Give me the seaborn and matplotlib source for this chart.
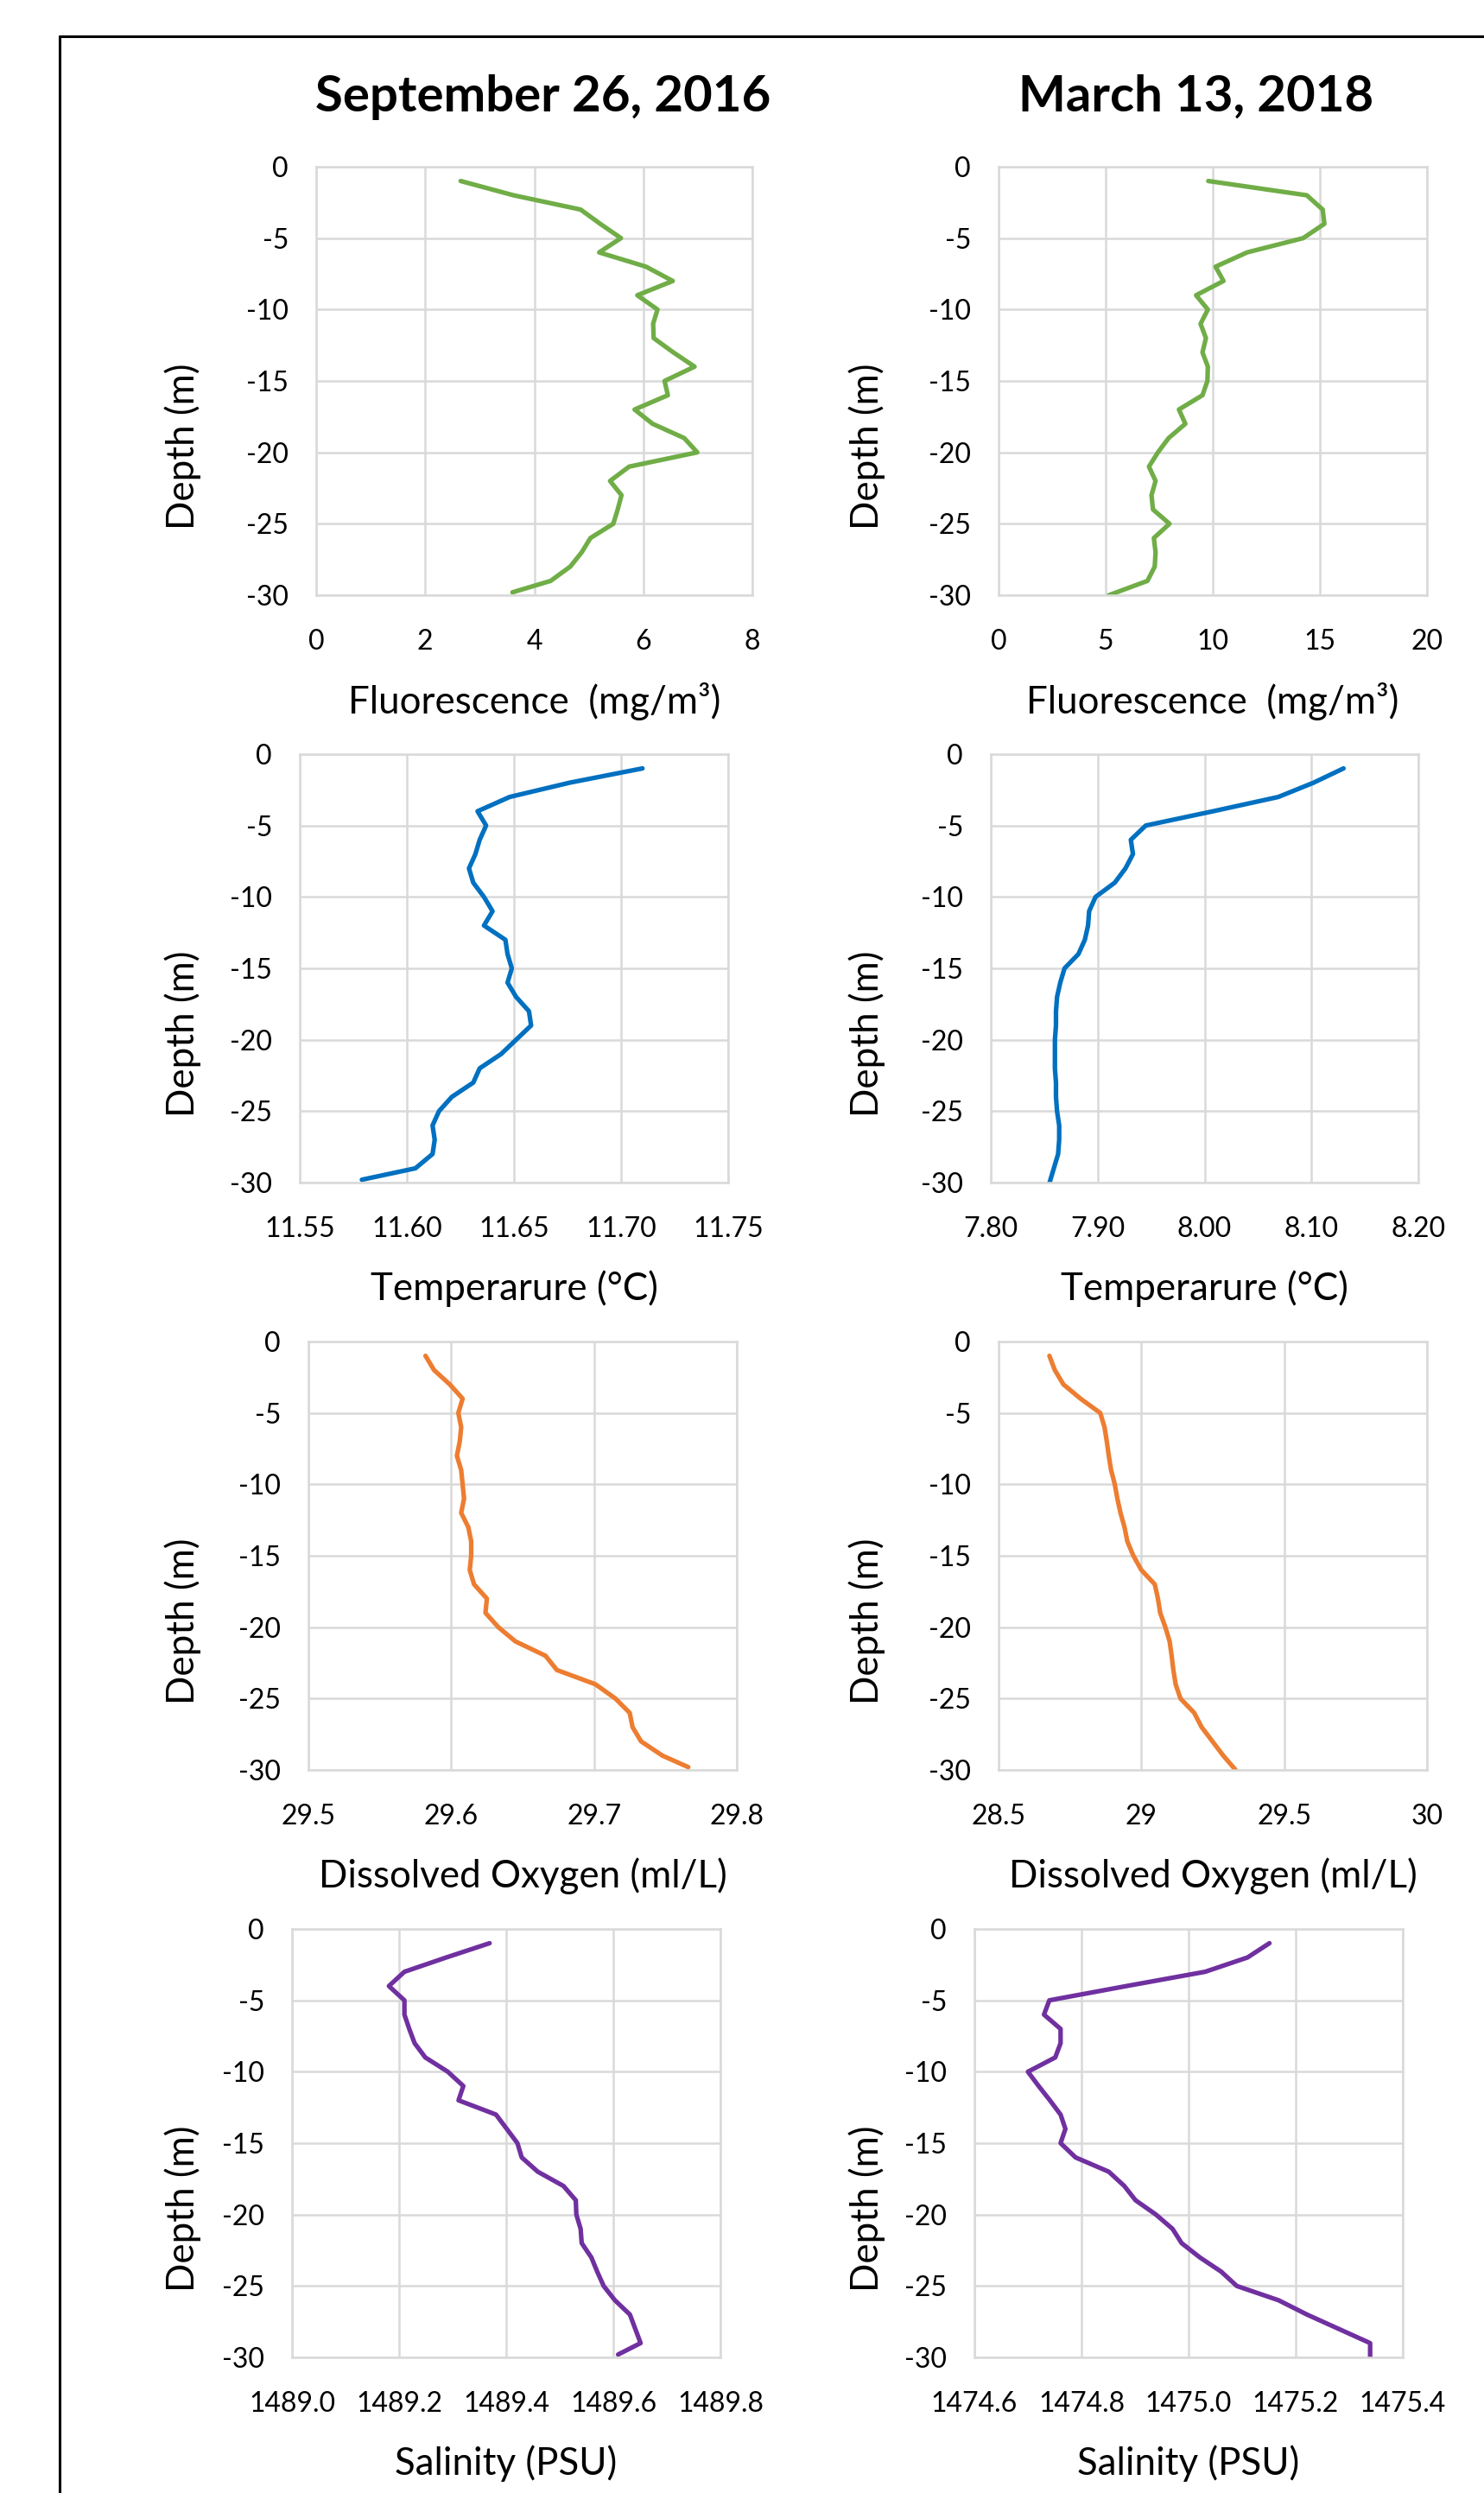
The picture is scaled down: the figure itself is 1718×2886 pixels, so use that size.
import numpy as np
import pandas as pd
import matplotlib
matplotlib.use("Agg")
import matplotlib.pyplot as plt
import seaborn as sns
from matplotlib.lines import Line2D

# ===============================================
# DATA
# ===============================================

depth_sep = [-1, -2, -3, -4, -5, -6, -7, -8, -9, -10, -11, -12, -13, -14, -15,
             -16, -17, -18, -19, -20, -21, -22, -23, -24, -25, -26, -27, -28, -29, -29.8]
depth_mar = [-1, -2, -3, -4, -5, -6, -7, -8, -9, -10, -11, -12, -13, -14, -15,
             -16, -17, -18, -19, -20, -21, -22, -23, -24, -25, -26, -27, -28, -29, -30]

fluor_sep = [2.65, 3.62, 4.85, 5.21, 5.59, 5.19, 6.05, 6.54, 5.89, 6.26, 6.18, 6.19, 6.55, 6.94, 6.39,
             6.45, 5.84, 6.17, 6.75, 6.99, 5.74, 5.39, 5.60, 5.53, 5.45, 5.03, 4.87, 4.66, 4.30, 3.60]
fluor_mar = [9.79, 14.39, 15.13, 15.21, 14.22, 11.60, 10.13, 10.50, 9.22, 9.77, 9.43, 9.68, 9.52, 9.77, 9.75,
             9.52, 8.42, 8.72, 7.94, 7.44, 7.02, 7.33, 7.14, 7.21, 7.98, 7.25, 7.33, 7.29, 6.95, 5.15]

temp_sep = [11.710, 11.676, 11.648, 11.633, 11.637, 11.634, 11.632, 11.629, 11.631, 11.636,
            11.640, 11.636, 11.646, 11.647, 11.649, 11.647, 11.651, 11.657, 11.658, 11.651,
            11.644, 11.634, 11.631, 11.621, 11.615, 11.612, 11.613, 11.612, 11.604, 11.579]
temp_mar = [8.130, 8.102, 8.069, 8.008, 7.945, 7.931, 7.933, 7.926, 7.916, 7.898,
            7.892, 7.891, 7.888, 7.882, 7.869, 7.865, 7.862, 7.861, 7.861, 7.860,
            7.860, 7.860, 7.861, 7.861, 7.862, 7.864, 7.864, 7.863, 7.859, 7.855]

oxy_sep = [29.582, 29.588, 29.599, 29.608, 29.605, 29.607, 29.606, 29.604, 29.607, 29.608,
           29.609, 29.607, 29.612, 29.614, 29.614, 29.613, 29.616, 29.625, 29.624, 29.633,
           29.645, 29.666, 29.674, 29.701, 29.715, 29.725, 29.727, 29.733, 29.748, 29.766]
oxy_mar = [28.678, 28.697, 28.727, 28.787, 28.856, 28.871, 28.879, 28.886, 28.894, 28.907,
           28.916, 28.927, 28.941, 28.951, 28.972, 29.000, 29.047, 29.058, 29.066, 29.084,
           29.099, 29.106, 29.112, 29.120, 29.137, 29.185, 29.211, 29.249, 29.287, 29.33]

sal_sep = [1489.369, 1489.288, 1489.210, 1489.181, 1489.210, 1489.210, 1489.219, 1489.229, 1489.249, 1489.291,
           1489.320, 1489.311, 1489.381, 1489.401, 1489.421, 1489.429, 1489.459, 1489.507, 1489.530, 1489.531,
           1489.539, 1489.541, 1489.559, 1489.570, 1489.582, 1489.603, 1489.631, 1489.641, 1489.651, 1489.609]
sal_mar = [1475.151, 1475.110, 1475.031, 1474.884, 1474.740, 1474.730, 1474.761, 1474.761, 1474.751, 1474.700,
           1474.720, 1474.741, 1474.761, 1474.770, 1474.761, 1474.789, 1474.851, 1474.880, 1474.901, 1474.939,
           1474.970, 1474.987, 1475.021, 1475.061, 1475.090, 1475.168, 1475.221, 1475.280, 1475.339, 1475.339]

titles = ["September 26, 2016", "March 13, 2018"]
xlabels = ["Fluorescence  (mg/m³)", "Temperarure (°C)", "Dissolved Oxygen (ml/L)", "Salinity (PSU)"]
ylabel = "Depth (m)"

depth_ticks = [0, -5, -10, -15, -20, -25, -30]
depth_labels = ["0", "-5", "-10", "-15", "-20", "-25", "-30"]

fluor_sep_ticks = [0, 2, 4, 6, 8]
fluor_sep_labels = ["0", "2", "4", "6", "8"]
fluor_mar_ticks = [0, 5, 10, 15, 20]
fluor_mar_labels = ["0", "5", "10", "15", "20"]
temp_sep_ticks = [11.55, 11.60, 11.65, 11.70, 11.75]
temp_sep_labels = ["11.55", "11.60", "11.65", "11.70", "11.75"]
temp_mar_ticks = [7.80, 7.90, 8.00, 8.10, 8.20]
temp_mar_labels = ["7.80", "7.90", "8.00", "8.10", "8.20"]
oxy_sep_ticks = [29.5, 29.6, 29.7, 29.8]
oxy_sep_labels = ["29.5", "29.6", "29.7", "29.8"]
oxy_mar_ticks = [28.5, 29.0, 29.5, 30.0]
oxy_mar_labels = ["28.5", "29", "29.5", "30"]
sal_sep_ticks = [1489.0, 1489.2, 1489.4, 1489.6, 1489.8]
sal_sep_labels = ["1489.0", "1489.2", "1489.4", "1489.6", "1489.8"]
sal_mar_ticks = [1474.6, 1474.8, 1475.0, 1475.2, 1475.4]
sal_mar_labels = ["1474.6", "1474.8", "1475.0", "1475.2", "1475.4"]

colors = ["#70AD47", "#0070C0", "#ED7D31", "#7030A0"]

# ===============================================
# FIGURE
# ===============================================

sns.set_theme(style="white")
plt.rcParams["font.family"] = ["Lato", "DejaVu Sans"]

W, H = 1718, 2886
fig = plt.figure(figsize=(W / 100, H / 100), dpi=100)
fig.patch.set_facecolor("white")
renderer = fig.canvas.get_renderer()


def fit_size(text, width_px, weight="normal"):
    # font size (pt) giving the text the width it has in the reference
    t = fig.text(0, 0, text, fontsize=100, fontweight=weight)
    w = t.get_window_extent(renderer).width
    t.remove()
    return 100 * width_px / w


tick_fs = fit_size("11.55", 82)
label_fs = fit_size("Temperarure (°C)", 332)
title_fs = fit_size(titles[0], 527, "bold")


def add_panel(box, values, depth, color, ticks, labels, xlabel, ylab_x):
    l, t, r, b = box
    ax = fig.add_axes([l / W, 1 - b / H, (r - l) / W, (b - t) / H])
    df = pd.DataFrame({"value": values, "depth": depth})
    sns.lineplot(data=df, x="value", y="depth", ax=ax, color=color, lw=3.8,
                 sort=False, estimator=None, orient="y")
    ax.set_xlim(ticks[0], ticks[-1])
    ax.set_ylim(-30, 0)
    ax.set_xticks(ticks)
    ax.set_xticklabels(labels)
    ax.set_yticks(depth_ticks)
    ax.set_yticklabels(depth_labels)
    ax.grid(True, color="#D9D9D9", lw=1.8)
    ax.set_axisbelow(True)
    for s in ax.spines.values():
        s.set_color("#D9D9D9")
        s.set_linewidth(1.8)
    ax.tick_params(axis="both", length=0, labelsize=tick_fs, colors="black")
    ax.tick_params(axis="x", pad=28)
    ax.tick_params(axis="y", pad=23)
    ax.set_xlabel(xlabel, fontsize=label_fs, color="black")
    ax.set_ylabel(ylabel, fontsize=label_fs, color="black")
    ax.xaxis.set_label_coords(0.5, -123 / (b - t))
    ax.xaxis.label.set_va("center")
    ax.yaxis.set_label_coords((ylab_x - l) / (r - l), 0.5 - 76 / (b - t))
    ax.yaxis.label.set_va("center")
    return ax


boxes_left = [(366, 193, 871, 689), (347, 873, 843, 1369),
              (357, 1553, 853, 2049), (338, 2233, 834, 2729)]
boxes_right = [(1156, 193, 1652, 689), (1147, 873, 1642, 1369),
               (1156, 1553, 1652, 2049), (1128, 2233, 1624, 2729)]

left_series = [fluor_sep, temp_sep, oxy_sep, sal_sep]
right_series = [fluor_mar, temp_mar, oxy_mar, sal_mar]
left_ticks = [(fluor_sep_ticks, fluor_sep_labels), (temp_sep_ticks, temp_sep_labels),
              (oxy_sep_ticks, oxy_sep_labels), (sal_sep_ticks, sal_sep_labels)]
right_ticks = [(fluor_mar_ticks, fluor_mar_labels), (temp_mar_ticks, temp_mar_labels),
               (oxy_mar_ticks, oxy_mar_labels), (sal_mar_ticks, sal_mar_labels)]

for i in range(4):
    add_panel(boxes_left[i], left_series[i], depth_sep, colors[i],
              left_ticks[i][0], left_ticks[i][1], xlabels[i], 212)
    add_panel(boxes_right[i], right_series[i], depth_mar, colors[i],
              right_ticks[i][0], right_ticks[i][1], xlabels[i], 1004)

# Column titles
fig.text(629 / W, 1 - 129 / H, titles[0], ha="center", va="baseline",
         fontsize=title_fs, fontweight="bold", color="black")
fig.text(1385 / W, 1 - 129 / H, titles[1], ha="center", va="baseline",
         fontsize=title_fs, fontweight="bold", color="black")

# Frame around the page (left and top edges only visible)
fig.add_artist(Line2D([69 / W, 69 / W], [0, 1 - 42 / H], color="black",
                      lw=2.2, transform=fig.transFigure))
fig.add_artist(Line2D([69 / W, 1], [1 - 42 / H, 1 - 42 / H], color="black",
                      lw=2.2, transform=fig.transFigure))

fig.savefig("out.png", dpi=100, facecolor="white")
